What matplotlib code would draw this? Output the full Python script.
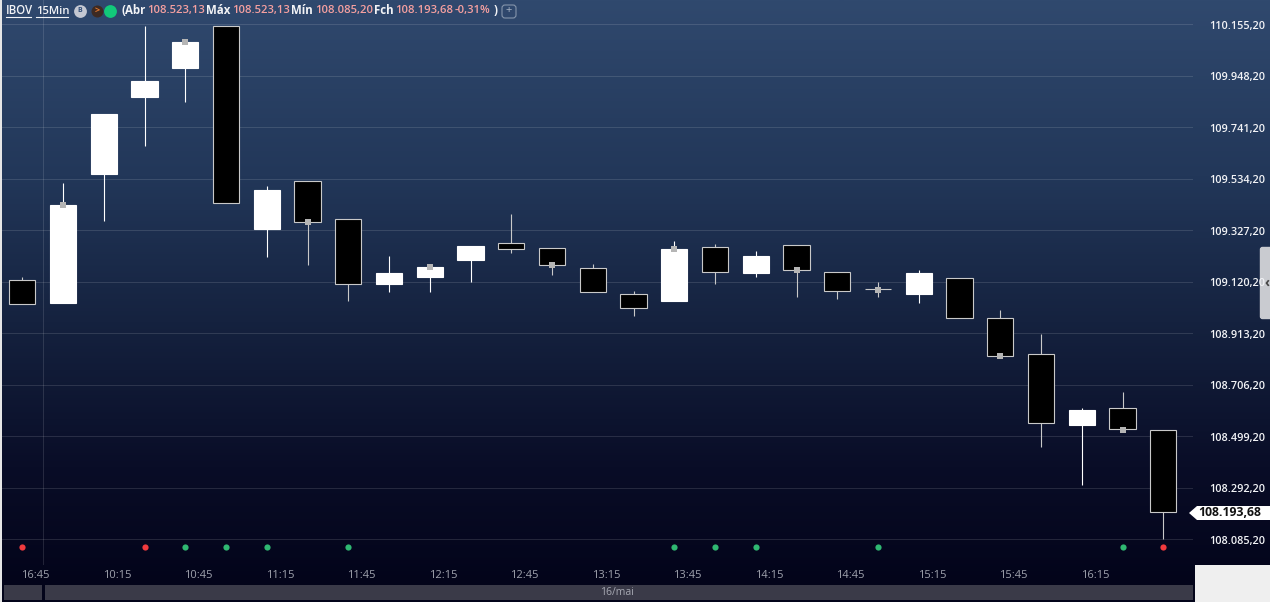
import matplotlib
matplotlib.use("Agg")
import matplotlib.pyplot as plt
from matplotlib.patches import Rectangle, Polygon, FancyBboxPatch
from matplotlib.colors import LinearSegmentedColormap
from matplotlib.transforms import ScaledTranslation
import numpy as np

W, H = 1270, 602

times = ["16:45", "10:15", "10:45", "11:15", "11:45", "12:15", "12:45",
         "13:15", "13:45", "14:15", "14:45", "15:15", "15:45", "16:15"]

opens = [109127, 109035, 109552, 109862, 109979, 110147, 109332, 109525, 109372, 109111,
         109139, 109207, 109275, 109255, 109175, 109072, 109042, 109259, 109155, 109267,
         109159, 109092, 109072, 109135, 108975, 108830, 108545, 108614, 108523.13]
highs = [109139, 109516, 109794, 110147, 110083, 110147, 109505, 109525, 109372, 109223,
         109191, 109263, 109392, 109255, 109191, 109083, 109283, 109271, 109243, 109267,
         109159, 109119, 109167, 109135, 109007, 108911, 108614, 108678, 108523.13]
lows = [109031, 109035, 109364, 109665, 109842, 109436, 109219, 109187, 109042, 109080,
        109080, 109119, 109235, 109147, 109080, 108983, 109042, 109111, 109139, 109059,
        109051, 109059, 109035, 108975, 108814, 108456, 108304, 108525, 108085.2]
closes = [109031, 109428, 109794, 109926, 110083, 109436, 109489, 109360, 109111, 109155,
          109179, 109263, 109251, 109187, 109080, 109015, 109251, 109159, 109223, 109167,
          109084, 109090, 109155, 108975, 108822, 108553, 108606, 108529, 108193.68]

price_ticks = [110155.20, 109948.20, 109741.20, 109534.20, 109327.20, 109120.20,
               108913.20, 108706.20, 108499.20, 108292.20, 108085.20]

mark_idx = [1, 4, 7, 10, 13, 16, 19, 21, 24, 27]
mark_price = [109428, 110083, 109360, 109179, 109187, 109251, 109167, 109088, 108822, 108525]

red_idx = [0, 3, 28]
green_idx = [4, 5, 6, 8, 16, 17, 18, 21, 27]
signal_price = 108054

def br(v):
    return f"{v:,.2f}".replace(",", "#").replace(".", ",").replace("#", ".")

plt.rcParams["font.family"] = ["Open Sans", "DejaVu Sans"]
fig = plt.figure(figsize=(W / 100, H / 100), dpi=100, facecolor="#efefef")

# background gradient
bg = fig.add_axes([2 / W, 1 - 585 / H, 1268 / W, 585 / H])
cmap = LinearSegmentedColormap.from_list("bg", [(0, "#30496e"), (0.3, "#223759"), (0.55, "#15223f"),
                                                (0.8, "#090d27"), (1, "#03041a")])
bg.imshow(np.linspace(0, 1, 256).reshape(-1, 1), aspect="auto", cmap=cmap, extent=[0, 1, 0, 1])
bg.axis("off")
bg.set_zorder(0)

# main axes, pixel position of the plot area
ax = fig.add_axes([2 / W, 1 - 565 / H, 1191 / W, 565 / H])
ax.set_zorder(2)
ax.patch.set_alpha(0)
ax.set_xlim(-0.497, 28.73)
ax.set_ylim(107982, 110251.6)
for s in ax.spines.values():
    s.set_visible(False)

ax.set_yticks(price_ticks)
ax.set_yticklabels([br(p) for p in price_ticks], fontsize=7.8, color="#f2f3f6", fontweight="semibold")
ax.yaxis.tick_right()
ax.tick_params(axis="y", length=0, pad=11.5)
down = ScaledTranslation(0, -0.7 / 100, fig.dpi_scale_trans)
for lab in ax.get_yticklabels():
    lab.set_transform(lab.get_transform() + down)
ax.set_xticks(range(0, 2 * len(times), 2))
ax.set_xticklabels(times, fontsize=8, color="#9fa2ad", ha="left")
ax.tick_params(axis="x", length=0, pad=3.5)
shift = ScaledTranslation(-1.2 / 100, 0, fig.dpi_scale_trans)
for lab in ax.get_xticklabels():
    lab.set_transform(lab.get_transform() + shift)
ax.grid(axis="y", color="#ffffff", alpha=0.12, lw=0.75)
ax.set_axisbelow(True)
ax.axvline(0.5, color="#ffffff", alpha=0.12, lw=0.75)

for i in range(len(opens)):
    up = closes[i] >= opens[i]
    edge = "#ffffff" if up else "#c9c9c9"
    ax.vlines(i, lows[i], highs[i], color=edge, lw=0.8, zorder=2)
    ax.bar(i, abs(closes[i] - opens[i]), bottom=min(opens[i], closes[i]), width=0.645,
           facecolor="#ffffff" if up else "#000000", edgecolor=edge, lw=0.8, zorder=3)

ax.scatter(mark_idx, mark_price, marker="s", s=18, color="#b5b5b5", linewidths=0, zorder=5)
ax.scatter(red_idx, [signal_price] * len(red_idx), s=20, color="#f03a3e", linewidths=0, zorder=5)
ax.scatter(green_idx, [signal_price] * len(green_idx), s=20, color="#2fb872", linewidths=0, zorder=5)

# overlay in pixels for the chrome around the chart
ui = fig.add_axes([0, 0, 1, 1])
ui.set_zorder(1)
ui.set_xlim(0, W)
ui.set_ylim(H, 0)
ui.axis("off")
ui.patch.set_alpha(0)

ui.add_patch(Rectangle((0, 0), 2, 602, color="#e6e6e6", lw=0))
ui.add_patch(Rectangle((2, 585), 1193, 17, color="#03041a", lw=0))
ui.add_patch(Rectangle((4, 585), 1189, 15, color="#3a3a48", lw=0))
ui.add_patch(Rectangle((42, 585), 3, 15, color="#03041a", lw=0))
ui.text(617, 592.5, "16/mai", fontsize=7.5, color="#a6a8b2", ha="center", va="center")
ui.add_patch(Rectangle((1195, 565), 75, 37, color="#efefef", lw=0))
ui.add_patch(FancyBboxPatch((1260.5, 247.5), 14, 71, boxstyle="round,pad=0,rounding_size=2",
                            fc="#c9cbd0", ec="#c9cbd0", lw=1))
ui.text(1267, 283, "‹", fontsize=10, color="#444444", ha="center", va="center", fontweight="bold")

ui.add_patch(Polygon([(1189, 513), (1197, 506), (1270, 506), (1270, 520), (1197, 520)],
                     closed=True, fc="#ffffff", ec="none", zorder=6))
ui.text(1198, 513, br(closes[-1]), fontsize=8.8, color="#111111", fontweight="bold",
        va="center", zorder=7)

# header
pink = "#f5a0a0"
white = "#f2f3f6"
header = [(6, "IBOV", white, "semibold", 8.3), (36, "15Min", white, "semibold", 8.1),
          (122, "(Abr", white, "bold", 8.3), (147, br(opens[-1]), pink, "semibold", 8.1),
          (206, "Máx", white, "bold", 8.3), (232, br(highs[-1]), pink, "semibold", 8.1),
          (291, "Mín", white, "bold", 8.3), (315, br(lows[-1]), pink, "semibold", 8.1),
          (374, "Fch", white, "bold", 8.3), (395, br(closes[-1]), pink, "semibold", 8.1),
          (455, "-0,31%", pink, "semibold", 8.1), (494, ")", white, "bold", 8.3)]
for x, s, c, w, fs in header:
    ui.text(x, 11, s, fontsize=fs, color=c, fontweight=w, va="center")
ui.plot([6, 31], [16.5, 16.5], color=white, lw=0.8)
ui.plot([36, 68], [16.5, 16.5], color=white, lw=0.8)

ui.scatter([79.5], [11], s=85, color="#c4c8d2", linewidths=0)
ui.text(79.5, 11, "B", fontsize=5, color="#33507a", ha="center", va="center", fontweight="bold")
ui.scatter([97], [11], s=75, color="#3d2a22", linewidths=0)
ui.text(97, 10.5, ">", fontsize=6.5, color="#e8792e", ha="center", va="center", fontweight="bold")
ui.scatter([110], [11], s=85, color="#12c97a", linewidths=0)
ui.add_patch(FancyBboxPatch((502, 5), 14, 13, boxstyle="round,pad=0,rounding_size=3",
                            fc="none", ec="#8595ab", lw=0.8))
ui.text(509, 11, "+", fontsize=8, color="#aab5c6", ha="center", va="center")

fig.savefig("out.png", dpi=100, facecolor=fig.get_facecolor())
